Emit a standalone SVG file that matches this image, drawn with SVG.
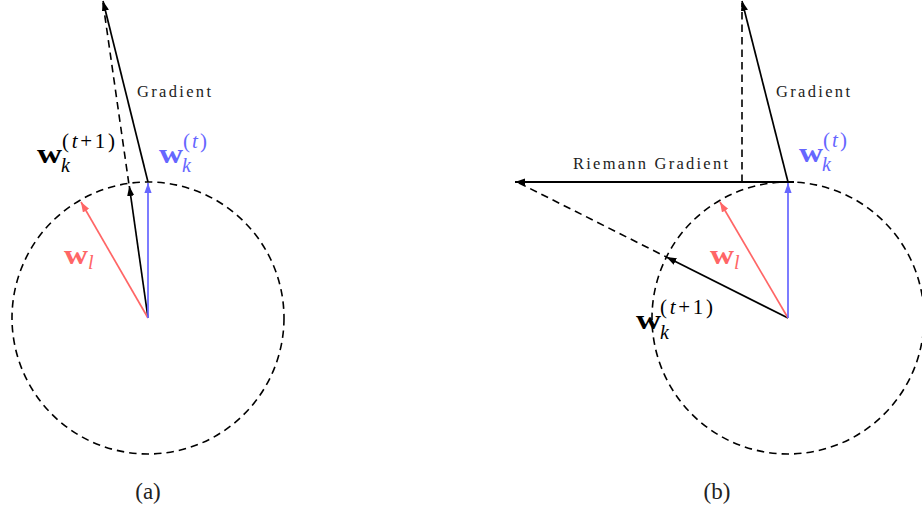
<svg xmlns="http://www.w3.org/2000/svg" width="922" height="510" viewBox="0 0 922 510">
<style>
.circ{fill:none;stroke:#000;stroke-width:1.6;stroke-dasharray:7.5 5}
.dash{fill:none;stroke:#000;stroke-width:1.6;stroke-dasharray:7.5 5}
.blk{fill:none;stroke:#000;stroke-width:1.7}
.thk{fill:none;stroke:#000;stroke-width:2.1}
.blu{fill:none;stroke:#6666ff;stroke-width:1.7}
.red{fill:none;stroke:#ff6666;stroke-width:1.7}
text{font-family:"Liberation Serif","Times New Roman",serif}
.lab{font-size:16.5px;fill:#222}
.bw{font-size:27px;font-weight:bold}
.sup{font-size:21px;font-weight:normal}
.sub{font-size:20px;font-style:italic;font-weight:normal}
.cap{font-size:23px;fill:#222}
</style>
<defs>
<marker id="ak" markerUnits="userSpaceOnUse" markerWidth="13" markerHeight="10" refX="10" refY="3.6" orient="auto"><path d="M0,0 L10,3.6 L0,7.2 z" fill="#000"/></marker>
<marker id="ab" markerUnits="userSpaceOnUse" markerWidth="13" markerHeight="10" refX="10" refY="3.6" orient="auto"><path d="M0,0 L10,3.6 L0,7.2 z" fill="#6666ff"/></marker>
<marker id="ar" markerUnits="userSpaceOnUse" markerWidth="13" markerHeight="10" refX="10" refY="3.6" orient="auto"><path d="M0,0 L10,3.6 L0,7.2 z" fill="#ff6666"/></marker>
</defs>

<g id="panel-a">
<g id="circle-a"><circle class="circ" cx="148" cy="318" r="136"/></g>
<g id="connectors-a">
<line class="dash" x1="103" y1="3" x2="128.8" y2="183.4"/>
<line class="blk" x1="148" y1="182" x2="103" y2="1" marker-end="url(#ak)"/>
<line class="blk" x1="148" y1="318" x2="129.3" y2="186" marker-end="url(#ak)"/>
<line class="red" x1="148" y1="318" x2="81" y2="202" marker-end="url(#ar)"/>
<line class="blu" x1="148" y1="318" x2="148" y2="183" marker-end="url(#ab)"/>
</g>
<g id="label-grad-a"><text class="lab" x="137" y="97" textLength="74" lengthAdjust="spacing">Gradient</text></g>
<g id="label-wk1-a">
<text class="bw" x="37" y="163" textLength="25" lengthAdjust="spacingAndGlyphs">w</text>
<text class="sup" x="62" y="148" textLength="53" lengthAdjust="spacing">(<tspan font-style="italic">t</tspan>+1)</text>
<text class="sub" x="61" y="172">k</text>
</g>
<g id="label-wk-a" fill="#6666ff">
<text class="bw" x="159" y="163" textLength="24" lengthAdjust="spacingAndGlyphs">w</text>
<text class="sup" x="183" y="148" textLength="24" lengthAdjust="spacing">(<tspan font-style="italic">t</tspan>)</text>
<text class="sub" x="182" y="172">k</text>
</g>
<g id="label-wl-a" fill="#ff6666">
<text class="bw" x="64" y="264" textLength="24" lengthAdjust="spacingAndGlyphs">w</text>
<text class="sub" x="88" y="269">l</text>
</g>
<g id="caption-a"><text class="cap" x="148" y="499" text-anchor="middle">(a)</text></g>
</g>

<g id="panel-b">
<g id="circle-b"><circle class="circ" cx="788" cy="318" r="136"/></g>
<g id="connectors-b">
<line class="dash" x1="742" y1="182" x2="742" y2="3"/>
<line class="dash" x1="519" y1="183" x2="666.4" y2="257"/>
<line class="blk" x1="788" y1="182" x2="742" y2="1" marker-end="url(#ak)"/>
<line class="thk" x1="794" y1="182" x2="515" y2="182" marker-end="url(#ak)"/>
<line class="blk" x1="788" y1="318" x2="666.4" y2="257" marker-end="url(#ak)"/>
<line class="red" x1="788" y1="318" x2="720" y2="202" marker-end="url(#ar)"/>
<line class="blu" x1="788" y1="318" x2="788" y2="183" marker-end="url(#ab)"/>
</g>
<g id="label-grad-b"><text class="lab" x="776" y="97" textLength="74" lengthAdjust="spacing">Gradient</text></g>
<g id="label-riem-b"><text class="lab" x="573" y="169" textLength="155" lengthAdjust="spacing">Riemann Gradient</text></g>
<g id="label-wk-b" fill="#6666ff">
<text class="bw" x="799" y="162" textLength="24" lengthAdjust="spacingAndGlyphs">w</text>
<text class="sup" x="823" y="147" textLength="24" lengthAdjust="spacing">(<tspan font-style="italic">t</tspan>)</text>
<text class="sub" x="822" y="171">k</text>
</g>
<g id="label-wk1-b">
<text class="bw" x="636" y="329" textLength="25" lengthAdjust="spacingAndGlyphs">w</text>
<text class="sup" x="660" y="314" textLength="53" lengthAdjust="spacing">(<tspan font-style="italic">t</tspan>+1)</text>
<text class="sub" x="660" y="339">k</text>
</g>
<g id="label-wl-b" fill="#ff6666">
<text class="bw" x="710" y="264" textLength="24" lengthAdjust="spacingAndGlyphs">w</text>
<text class="sub" x="734" y="269">l</text>
</g>
<g id="caption-b"><text class="cap" x="717" y="499" text-anchor="middle">(b)</text></g>
</g>
</svg>
